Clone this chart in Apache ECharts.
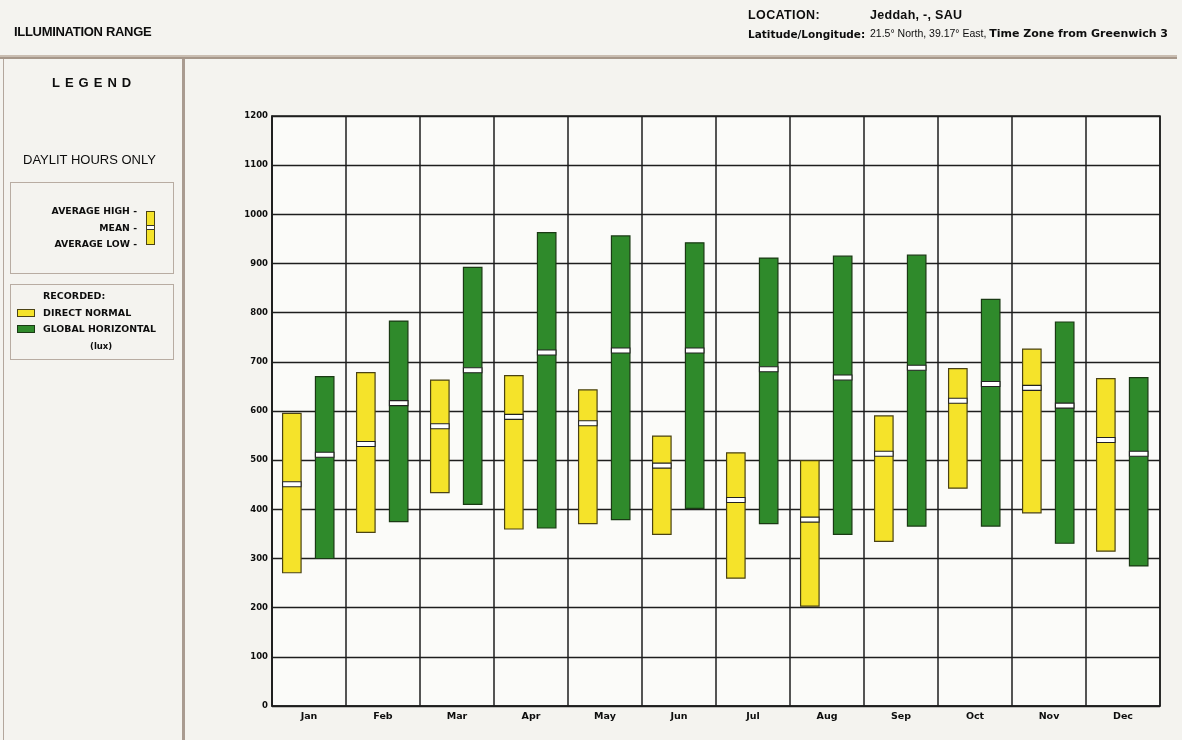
<!DOCTYPE html>
<html>
<head>
<meta charset="utf-8">
<script src="https://cdn.jsdelivr.net/npm/echarts@6/dist/echarts.min.js"></script>
<style>
  html, body { margin:0; padding:0; width:1182px; height:740px; background:#f4f3ef; overflow:hidden; }
  .t { position:absolute; white-space:nowrap; color:#0d0d0d; line-height:1; }
  .hv { font-family:"DejaVu Sans", sans-serif; font-weight:bold; }
  .ar { font-family:"Liberation Sans", Arial, sans-serif; }
  #chart { position:absolute; left:0; top:0; width:1182px; height:740px; }
</style>
</head>
<body>
<!-- frame lines -->
<div style="position:absolute;left:0;top:55px;width:1177px;height:2px;background:#c9bdb1;"></div>
<div style="position:absolute;left:0;top:57px;width:1177px;height:2px;background:#a6978a;"></div>
<div style="position:absolute;left:3px;top:59px;width:1px;height:681px;background:#b3a69c;"></div>
<div style="position:absolute;left:182px;top:59px;width:3px;height:681px;background:#a99b90;"></div>
<!-- legend boxes -->
<div style="position:absolute;left:10px;top:182px;width:164px;height:92px;border:1px solid #b8aca2;box-sizing:border-box;"></div>
<div style="position:absolute;left:10px;top:284px;width:164px;height:76px;border:1px solid #b8aca2;box-sizing:border-box;"></div>

<div id="chart"></div>

<!-- header texts -->
<div class="t ar" style="left:14px;top:25px;font-size:13px;font-weight:bold;letter-spacing:-0.3px;">ILLUMINATION RANGE</div>
<div class="t ar" style="left:748px;top:9px;font-size:12.5px;font-weight:bold;letter-spacing:0.4px;">LOCATION:</div>
<div class="t ar" style="left:870px;top:9px;font-size:12.5px;font-weight:bold;letter-spacing:0.3px;">Jeddah, -, SAU</div>
<div class="t hv" style="left:748px;top:29px;font-size:10.5px;">Latitude/Longitude:</div>
<div class="t" style="left:870px;top:28px;font-size:10.5px;"><span class="ar">21.5° North, 39.17° East, </span><span class="hv" style="font-size:11px;">Time Zone from Greenwich 3</span></div>

<!-- legend texts -->
<div class="t ar" style="left:52px;top:76px;font-size:13px;font-weight:bold;letter-spacing:5px;">LEGEND</div>
<div class="t ar" style="left:23px;top:153px;font-size:13px;">DAYLIT HOURS ONLY</div>
<div class="t hv" style="right:1045px;top:206px;font-size:9.3px;">AVERAGE HIGH -</div>
<div class="t hv" style="right:1045px;top:223px;font-size:9.3px;">MEAN -</div>
<div class="t hv" style="right:1045px;top:239px;font-size:9.3px;">AVERAGE LOW -</div>
<div style="position:absolute;left:146px;top:211px;width:9px;height:34px;background:#f5e32a;border:1px solid #4a4215;box-sizing:border-box;"></div>
<div style="position:absolute;left:147px;top:225px;width:7px;height:5px;background:#fff;border-top:1px solid #333;border-bottom:1px solid #333;box-sizing:border-box;"></div>
<div class="t hv" style="left:43px;top:291px;font-size:9.5px;">RECORDED:</div>
<div style="position:absolute;left:17px;top:309px;width:18px;height:8px;background:#f5e32a;border:1px solid #4a4215;box-sizing:border-box;"></div>
<div class="t hv" style="left:43px;top:308px;font-size:9.5px;">DIRECT NORMAL</div>
<div style="position:absolute;left:17px;top:325px;width:18px;height:8px;background:#2f8a2b;border:1px solid #1a3a14;box-sizing:border-box;"></div>
<div class="t hv" style="left:43px;top:324px;font-size:9.4px;">GLOBAL HORIZONTAL</div>
<div class="t hv" style="left:90px;top:342px;font-size:8.5px;">(lux)</div>

<script>
// ---- data ----
var months = ['Jan','Feb','Mar','Apr','May','Jun','Jul','Aug','Sep','Oct','Nov','Dec'];
var yTicks = [0,100,200,300,400,500,600,700,800,900,1000,1100,1200];
var directNormalLow  = [271, 353, 434, 360, 371, 349, 260, 203, 335, 443, 393, 315];
var directNormalHigh = [595, 678, 663, 672, 643, 549, 515, 499, 590, 686, 726, 666];
var directNormalMean = [451, 533, 569, 588, 575, 489, 419, 379, 513, 621, 647, 541];
var globalHorizLow   = [300, 375, 410, 362, 379, 402, 371, 349, 366, 366, 331, 285];
var globalHorizHigh  = [670, 783, 892, 963, 956, 942, 911, 915, 917, 827, 781, 668];
var globalHorizMean  = [511, 616, 683, 719, 723, 723, 685, 668, 688, 655, 611, 513];

function rows(lo, hi, mn) {
  return months.map(function (m, i) { return [i, lo[i], hi[i], mn[i]]; });
}

function makeRender(offsetFrac, fill, border) {
  return function (params, api) {
    var x = api.value(0);
    var lo = api.coord([x, api.value(1)]);
    var hi = api.coord([x, api.value(2)]);
    var mn = api.coord([x, api.value(3)]);
    var bw = api.size([1, 0])[0];
    var w = bw * 0.25;
    var cx = lo[0] + bw * offsetFrac;
    return {
      type: 'group',
      children: [
        { type: 'rect', shape: { x: cx - w / 2, y: hi[1], width: w, height: lo[1] - hi[1] },
          style: { fill: fill, stroke: border, lineWidth: 1.2 } },
        { type: 'rect', shape: { x: cx - w / 2, y: mn[1] - 2.5, width: w, height: 5 },
          style: { fill: '#ffffff', stroke: '#222222', lineWidth: 1.1 } }
      ]
    };
  };
}

var chart = echarts.init(document.getElementById('chart'), null, { renderer: 'canvas' });
chart.setOption({
  animation: false,
  backgroundColor: 'transparent',
  grid: { left: 272, top: 116, right: 22, bottom: 34, show: true,
          backgroundColor: '#fbfbf9', borderColor: '#1e1e1e', borderWidth: 1.5 },
  xAxis: {
    type: 'category', data: months, boundaryGap: true,
    axisLine: { show: true, lineStyle: { color: '#1e1e1e', width: 1.5 } },
    axisTick: { show: false },
    splitLine: { show: true, lineStyle: { color: '#1e1e1e', width: 1.5 } },
    axisLabel: { color: '#0d0d0d', fontFamily: 'DejaVu Sans', fontWeight: 'bold', fontSize: 9.5, margin: 6 }
  },
  yAxis: {
    type: 'value', min: yTicks[0], max: yTicks[yTicks.length - 1], interval: 100,
    axisLine: { show: true, lineStyle: { color: '#1e1e1e', width: 1.5 } },
    axisTick: { show: false },
    splitLine: { show: true, lineStyle: { color: '#1e1e1e', width: 1.3 } },
    axisLabel: { color: '#0d0d0d', fontFamily: 'DejaVu Sans', fontWeight: 'bold', fontSize: 8.5, margin: 4,
                 formatter: function (v) { return String(v); } }
  },
  series: [
    { name: 'DIRECT NORMAL', type: 'custom', renderItem: makeRender(-0.232, '#f5e32a', '#4a4215'),
      encode: { x: 0, y: [1, 2] }, data: rows(directNormalLow, directNormalHigh, directNormalMean) },
    { name: 'GLOBAL HORIZONTAL', type: 'custom', renderItem: makeRender(0.212, '#2f8a2b', '#1a3a14'),
      encode: { x: 0, y: [1, 2] }, data: rows(globalHorizLow, globalHorizHigh, globalHorizMean) }
  ]
});
</script>
</body>
</html>
